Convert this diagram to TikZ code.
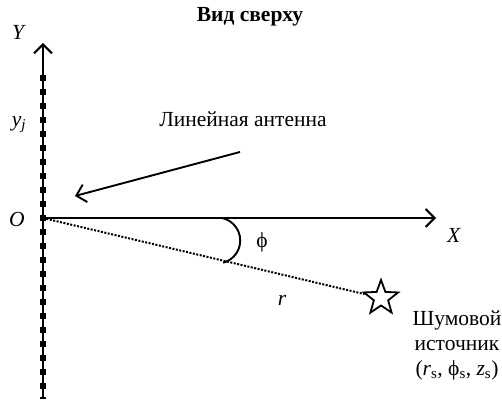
\documentclass[tikz,border=0pt]{standalone}
\usepackage{fontspec}
\setmainfont{Liberation Serif}
\usetikzlibrary{calc}
\usetikzlibrary{arrows.meta}
\usetikzlibrary{shapes.geometric}

\begin{document}
\begin{tikzpicture}[x=1pt, y=1pt,
        axis/.style={line width=2.3pt, -{Straight Barb[length=9pt, width=18pt, line width=2pt]}},
        lbl/.style={font=\fontsize{21.5}{25}\selectfont, inner sep=0pt}]
        \useasboundingbox (0,0) rectangle (502,401);
        % оси координат
        \coordinate (O) at (43,183);
        \coordinate (Ytop) at (43,358);
        \coordinate (Ybot) at (43,2);
        \coordinate (Xend) at (436,183);
        \draw[axis] (Ybot) -- (Ytop);
        \draw[axis] (O) -- (Xend);
        % элементы антенны
        \draw[line width=6pt, dash pattern=on 5.5pt off 8.5pt] ($(O)+(0,142.75)$) -- (Ybot);
        \node[lbl] (LabY) at (19,369) {\textit{Y}};
        \node[lbl] (LabYj) at (19,276) {\textit{y}\textsubscript{\textit{j}}};
        \node[lbl] (LabO) at (17,182) {\textit{O}};
        \node[lbl] (LabX) at (454,166) {\textit{X}};
        \node[lbl, font=\fontsize{21.5}{25}\selectfont\bfseries] (Title) at (250,384) {Вид сверху};
        % подпись антенны и стрелка
        \node[lbl] (Antenna) at (243,282) {Линейная антенна};
        \coordinate (AntTail) at (240,249);
        \coordinate (AntTip) at (75,205);
        \draw[line width=1.9pt, -{Straight Barb[length=9pt, width=18pt, line width=1.9pt]}] (AntTail) -- (AntTip);
        % источник шума
        \node[draw, star, star points=5, star point ratio=2.4, line width=1.8pt, minimum size=36pt, inner sep=0pt] (Source) at (381,103) {};
        \draw[line width=2pt, dash pattern=on 2pt off 1.5pt] (O) -- (Source);
        \node[lbl] (LabR) at (282,101) {\textit{r}};
        \node[lbl, align=center] (SrcText) at (457,56) {Шумовой\\источник\\(\textit{r}\textsubscript{s}, ϕ\textsubscript{s}, \textit{z}\textsubscript{s})};
        % угол
        \coordinate (ArcStart) at (222,183);
        \draw[line width=1.9pt] (ArcStart) arc[start angle=78, end angle=-75, radius=23];
        \node[lbl] (Phi) at (262,159) {ϕ};
\end{tikzpicture}
\end{document}
